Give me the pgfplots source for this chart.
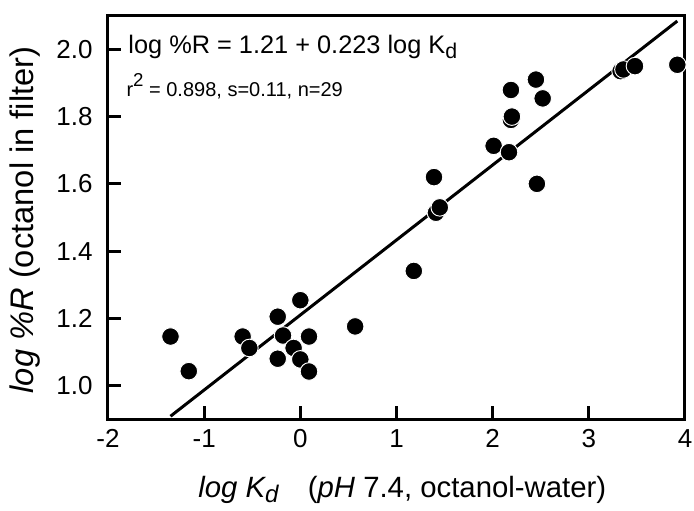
\documentclass[border=0pt]{standalone}
\usepackage{fontspec}
\setmainfont{Liberation Sans}
\usepackage{pgfplots}
\pgfplotsset{compat=1.18}
\begin{document}
\begin{tikzpicture}[x=0.75pt,y=0.75pt]
\useasboundingbox (0,0) rectangle (694,511);
\begin{axis}[
  at={(81pt,68.8pt)}, anchor=south west,
  scale only axis, width=432.75pt, height=302.7pt,
  xmin=-2, xmax=4, ymin=0.9, ymax=2.1,
  xtick={-2,-1,0,1,2,3,4},
  xticklabels={-2,-1,0,1,2,3,4},
  ytick={1.0,1.2,1.4,1.6,1.8,2.0},
  yticklabels={1.0,1.2,1.4,1.6,1.8,2.0},
  tick pos=left, tick align=inside,
  major tick length=9.75pt,
  axis line style={line width=2.25pt},
  every tick/.style={line width=2.25pt, black},
  tick label style={font=\fontsize{19.5}{21}\selectfont},
  /pgf/number format/assume math mode=true,
  xticklabel style={yshift=-4pt},
  yticklabel style={xshift=-8pt},
  xlabel={\textit{log K\raisebox{-4pt}{\fontsize{18}{18}\selectfont d}}\quad (\textit{pH} 7.4, octanol-water)},
  ylabel={\textit{log \%R} (octanol in filter)},
  xlabel style={font=\fontsize{22}{24}\selectfont, at={(axis description cs:0.51,-0.193)}, anchor=base},
  ylabel style={font=\fontsize{24.5}{26}\selectfont, at={(axis description cs:-0.129,0.494)}, anchor=base},
  clip=false,
]
\addplot[black, line width=2.25pt] coordinates {(-1.35,0.909) (3.92,2.084)};
\addplot[only marks, mark=*, mark size=6.6pt, mark options={fill=black, draw=white, line width=0.7pt}] coordinates {
(-1.35,1.146)
(-1.16,1.043)
(-0.60,1.146)
(-0.53,1.112)
(-0.235,1.205)
(-0.18,1.149)
(-0.235,1.08)
(0.0,1.254)
(-0.07,1.112)
(0.0,1.078)
(0.09,1.146)
(0.09,1.042)
(0.57,1.176)
(1.18,1.341)
(1.39,1.62)
(1.41,1.514)
(1.45,1.53)
(2.01,1.713)
(2.17,1.694)
(2.46,1.60)
(2.19,1.79)
(2.20,1.80)
(2.19,1.879)
(2.45,1.91)
(2.52,1.854)
(3.33,1.935)
(3.36,1.94)
(3.48,1.95)
(3.92,1.954)
};
\node[anchor=base west, inner sep=0pt, font=\fontsize{19}{21}\selectfont] at (axis cs:-1.79,1.988) {log \%R = 1.21 + 0.223 log K\raisebox{-3.5pt}{\fontsize{16}{16}\selectfont d}};
\node[anchor=base west, inner sep=0pt, font=\fontsize{15}{17}\selectfont] at (axis cs:-1.81,1.861) {r\raisebox{7pt}{\fontsize{14}{14}\selectfont 2} = 0.898, s=0.11, n=29};
\end{axis}
\end{tikzpicture}
\end{document}
